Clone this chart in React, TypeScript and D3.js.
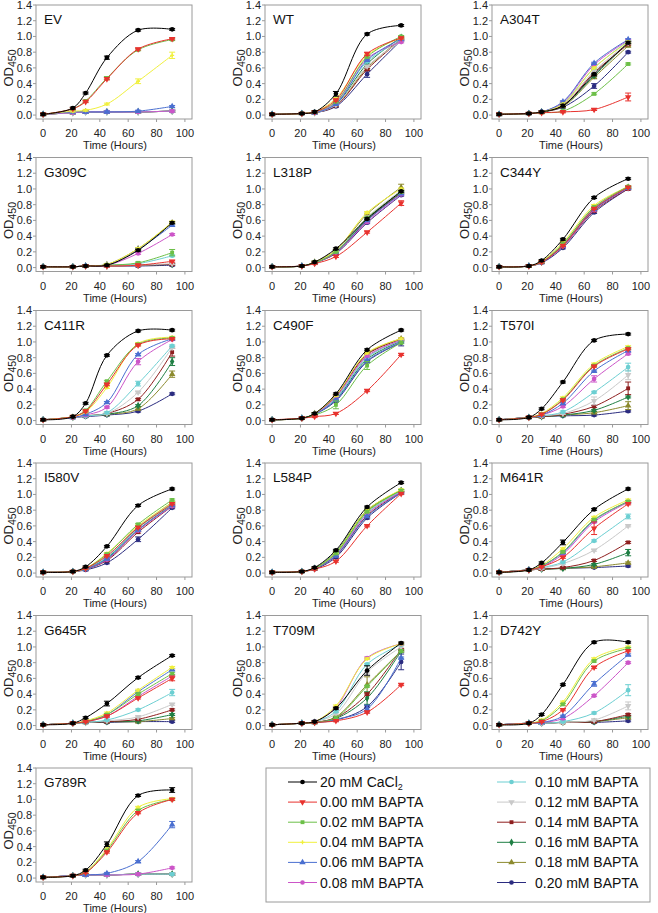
import React from "react";
import * as d3 from "d3";

// ---------- data ----------
const times = [0, 21, 30, 45, 67, 91];
const xTicks = [0, 20, 40, 60, 80, 100];
const yTicks = [0, 0.2, 0.4, 0.6, 0.8, 1.0, 1.2, 1.4];

const seriesLabels = [
  "20 mM CaCl", "0.00 mM BAPTA", "0.02 mM BAPTA", "0.04 mM BAPTA", "0.06 mM BAPTA", "0.08 mM BAPTA",
  "0.10 mM BAPTA", "0.12 mM BAPTA", "0.14 mM BAPTA", "0.16 mM BAPTA", "0.18 mM BAPTA", "0.20 mM BAPTA",
];
const seriesColors = [
  "#000000", "#e8322e", "#6cbf47", "#f0f03c", "#4a6fd0", "#cc55c8",
  "#6ccfd2", "#c9c9c9", "#8e1e1e", "#1f7f44", "#8c8a2e", "#2b2c80",
];
const seriesShapes = [
  "circle", "triangleDown", "square", "cross", "triangle", "circle",
  "circle", "triangleDown", "square", "diamond", "triangle", "circle",
];

const panelNames = [
  "EV", "WT", "A304T", "G309C", "L318P", "C344Y", "C411R", "C490F",
  "T570I", "I580V", "L584P", "M641R", "G645R", "T709M", "D742Y", "G789R",
];

const dataEV = [
  [0.01, 0.09, 0.28, 0.73, 1.08, 1.09],
  [0.01, 0.08, 0.17, 0.46, 0.84, 0.97],
  [0.01, 0.08, 0.18, 0.47, 0.83, 0.96],
  [0.01, 0.05, 0.06, 0.14, 0.43, 0.76],
  [0.01, 0.04, 0.04, 0.04, 0.05, 0.11],
  [0.01, 0.03, 0.04, 0.04, 0.04, 0.05],
  [0.01, 0.03, 0.04, 0.04, 0.04, 0.05],
  [0.01, 0.03, 0.04, 0.04, 0.04, 0.05],
  [0.01, 0.03, 0.04, 0.04, 0.04, 0.05],
  [0.01, 0.03, 0.04, 0.04, 0.04, 0.05],
  [0.01, 0.03, 0.04, 0.04, 0.04, 0.05],
  [0.01, 0.03, 0.04, 0.04, 0.04, 0.05],
];
const dataWT = [
  [0.01, 0.02, 0.04, 0.27, 1.03, 1.14],
  [0.01, 0.02, 0.04, 0.19, 0.78, 0.98],
  [0.01, 0.02, 0.04, 0.17, 0.74, 1.0],
  [0.01, 0.02, 0.04, 0.21, 0.76, 0.98],
  [0.01, 0.02, 0.03, 0.14, 0.7, 0.97],
  [0.01, 0.02, 0.03, 0.16, 0.72, 0.93],
  [0.01, 0.02, 0.03, 0.15, 0.68, 0.95],
  [0.01, 0.02, 0.03, 0.13, 0.62, 0.94],
  [0.01, 0.02, 0.03, 0.12, 0.58, 0.96],
  [0.01, 0.02, 0.03, 0.14, 0.65, 0.99],
  [0.01, 0.02, 0.03, 0.13, 0.6, 0.97],
  [0.01, 0.02, 0.03, 0.11, 0.52, 0.95],
];
const dataA304T = [
  [0.01, 0.02, 0.04, 0.12, 0.52, 0.92],
  [0.01, 0.02, 0.03, 0.04, 0.07, 0.23],
  [0.01, 0.02, 0.03, 0.05, 0.27, 0.65],
  [0.01, 0.02, 0.04, 0.14, 0.6, 0.93],
  [0.01, 0.02, 0.04, 0.17, 0.66, 0.96],
  [0.01, 0.02, 0.04, 0.16, 0.64, 0.95],
  [0.01, 0.02, 0.04, 0.15, 0.6, 0.94],
  [0.01, 0.02, 0.04, 0.14, 0.56, 0.92],
  [0.01, 0.02, 0.04, 0.12, 0.54, 0.9],
  [0.01, 0.02, 0.04, 0.12, 0.5, 0.92],
  [0.01, 0.02, 0.04, 0.11, 0.48, 0.88],
  [0.01, 0.02, 0.04, 0.1, 0.37, 0.8],
];
const dataG309C = [
  [0.01, 0.01, 0.02, 0.03, 0.22, 0.57],
  [0.01, 0.01, 0.02, 0.02, 0.03, 0.08],
  [0.01, 0.01, 0.02, 0.03, 0.06, 0.19],
  [0.01, 0.01, 0.02, 0.04, 0.24, 0.58],
  [0.01, 0.01, 0.02, 0.03, 0.23, 0.54],
  [0.01, 0.01, 0.02, 0.03, 0.18, 0.42],
  [0.01, 0.01, 0.02, 0.03, 0.05, 0.15],
  [0.01, 0.01, 0.02, 0.02, 0.03, 0.05],
  [0.01, 0.01, 0.02, 0.02, 0.03, 0.04],
  [0.01, 0.01, 0.02, 0.02, 0.03, 0.04],
  [0.01, 0.01, 0.02, 0.04, 0.24, 0.57],
  [0.01, 0.01, 0.02, 0.02, 0.02, 0.03],
];
const dataL318P = [
  [0.01, 0.02, 0.07, 0.24, 0.62, 0.97],
  [0.01, 0.02, 0.05, 0.14, 0.45, 0.82],
  [0.01, 0.02, 0.06, 0.2, 0.63, 0.96],
  [0.01, 0.02, 0.07, 0.22, 0.7, 1.0],
  [0.01, 0.02, 0.06, 0.2, 0.6, 0.94],
  [0.01, 0.02, 0.06, 0.19, 0.58, 0.93],
  [0.01, 0.02, 0.06, 0.2, 0.62, 0.97],
  [0.01, 0.02, 0.06, 0.21, 0.64, 0.98],
  [0.01, 0.02, 0.06, 0.19, 0.6, 0.95],
  [0.01, 0.02, 0.06, 0.2, 0.61, 0.96],
  [0.01, 0.02, 0.07, 0.22, 0.68, 1.02],
  [0.01, 0.02, 0.06, 0.18, 0.57, 0.92],
];
const dataC344Y = [
  [0.01, 0.02, 0.09, 0.36, 0.89, 1.13],
  [0.01, 0.02, 0.07, 0.28, 0.75, 1.02],
  [0.01, 0.02, 0.07, 0.3, 0.77, 1.03],
  [0.01, 0.02, 0.08, 0.32, 0.79, 1.03],
  [0.01, 0.02, 0.07, 0.28, 0.74, 1.01],
  [0.01, 0.02, 0.07, 0.27, 0.73, 1.01],
  [0.01, 0.02, 0.07, 0.29, 0.75, 1.02],
  [0.01, 0.02, 0.07, 0.29, 0.76, 1.02],
  [0.01, 0.02, 0.07, 0.27, 0.72, 1.0],
  [0.01, 0.02, 0.07, 0.28, 0.74, 1.02],
  [0.01, 0.02, 0.07, 0.3, 0.76, 1.02],
  [0.01, 0.02, 0.06, 0.25, 0.7, 1.0],
];
const dataC411R = [
  [0.01, 0.05, 0.22, 0.83, 1.14, 1.15],
  [0.01, 0.05, 0.12, 0.46, 0.96, 1.04],
  [0.01, 0.05, 0.13, 0.5, 0.97, 1.05],
  [0.01, 0.05, 0.11, 0.42, 0.98, 1.06],
  [0.01, 0.04, 0.08, 0.23, 0.84, 1.04],
  [0.01, 0.04, 0.07, 0.17, 0.75, 1.03],
  [0.01, 0.04, 0.06, 0.1, 0.47, 0.95],
  [0.01, 0.04, 0.06, 0.09, 0.36, 0.93],
  [0.01, 0.04, 0.06, 0.09, 0.27, 0.87],
  [0.01, 0.04, 0.06, 0.08, 0.19, 0.75],
  [0.01, 0.04, 0.06, 0.08, 0.15, 0.59],
  [0.01, 0.04, 0.05, 0.07, 0.12, 0.34],
];
const dataC490F = [
  [0.01, 0.03, 0.09, 0.34, 0.9, 1.15],
  [0.01, 0.03, 0.05, 0.09, 0.38, 0.84],
  [0.01, 0.03, 0.07, 0.2, 0.7, 0.99],
  [0.01, 0.03, 0.09, 0.32, 0.86, 1.04],
  [0.01, 0.03, 0.08, 0.26, 0.76, 1.0],
  [0.01, 0.03, 0.08, 0.3, 0.82, 1.02],
  [0.01, 0.03, 0.08, 0.28, 0.8, 1.02],
  [0.01, 0.03, 0.08, 0.29, 0.81, 1.02],
  [0.01, 0.03, 0.08, 0.31, 0.84, 1.03],
  [0.01, 0.03, 0.08, 0.27, 0.78, 1.01],
  [0.01, 0.03, 0.09, 0.32, 0.85, 1.04],
  [0.01, 0.03, 0.08, 0.25, 0.75, 0.99],
];
const dataT570I = [
  [0.01, 0.04, 0.15, 0.49, 1.02, 1.1],
  [0.01, 0.04, 0.08, 0.26, 0.69, 0.91],
  [0.01, 0.04, 0.08, 0.27, 0.7, 0.92],
  [0.01, 0.04, 0.09, 0.29, 0.72, 0.94],
  [0.01, 0.04, 0.07, 0.22, 0.63, 0.89],
  [0.01, 0.04, 0.07, 0.18, 0.53, 0.85],
  [0.01, 0.04, 0.06, 0.11, 0.36, 0.68],
  [0.01, 0.04, 0.06, 0.09, 0.25, 0.58],
  [0.01, 0.04, 0.05, 0.08, 0.18, 0.41],
  [0.01, 0.04, 0.05, 0.07, 0.13, 0.3],
  [0.01, 0.04, 0.05, 0.07, 0.1, 0.19],
  [0.01, 0.04, 0.05, 0.06, 0.07, 0.12],
];
const dataI580V = [
  [0.01, 0.02, 0.08, 0.34, 0.86, 1.07],
  [0.01, 0.02, 0.06, 0.22, 0.58, 0.88],
  [0.01, 0.02, 0.06, 0.24, 0.62, 0.93],
  [0.01, 0.02, 0.06, 0.25, 0.6, 0.9],
  [0.01, 0.02, 0.05, 0.18, 0.55, 0.86],
  [0.01, 0.02, 0.05, 0.17, 0.54, 0.85],
  [0.01, 0.02, 0.06, 0.2, 0.57, 0.88],
  [0.01, 0.02, 0.06, 0.21, 0.59, 0.89],
  [0.01, 0.02, 0.05, 0.16, 0.52, 0.85],
  [0.01, 0.02, 0.06, 0.19, 0.58, 0.9],
  [0.01, 0.02, 0.05, 0.17, 0.55, 0.87],
  [0.01, 0.02, 0.04, 0.13, 0.43, 0.83],
];
const dataL584P = [
  [0.01, 0.02, 0.07, 0.29, 0.84, 1.15],
  [0.01, 0.02, 0.05, 0.15, 0.6, 1.01],
  [0.01, 0.02, 0.06, 0.25, 0.78, 1.05],
  [0.01, 0.02, 0.06, 0.26, 0.8, 1.06],
  [0.01, 0.02, 0.06, 0.22, 0.72, 1.02],
  [0.01, 0.02, 0.06, 0.23, 0.75, 1.03],
  [0.01, 0.02, 0.06, 0.24, 0.76, 1.04],
  [0.01, 0.02, 0.06, 0.24, 0.77, 1.04],
  [0.01, 0.02, 0.06, 0.22, 0.73, 1.03],
  [0.01, 0.02, 0.06, 0.27, 0.8, 1.05],
  [0.01, 0.02, 0.06, 0.25, 0.79, 1.05],
  [0.01, 0.02, 0.05, 0.2, 0.7, 1.02],
];
const dataM641R = [
  [0.01, 0.04, 0.13, 0.39, 0.81, 1.07],
  [0.01, 0.04, 0.08, 0.2, 0.57, 0.88],
  [0.01, 0.04, 0.09, 0.27, 0.68, 0.91],
  [0.01, 0.04, 0.1, 0.31, 0.71, 0.93],
  [0.01, 0.04, 0.09, 0.26, 0.67, 0.91],
  [0.01, 0.04, 0.08, 0.24, 0.65, 0.9],
  [0.01, 0.04, 0.07, 0.14, 0.41, 0.72],
  [0.01, 0.04, 0.06, 0.12, 0.29, 0.6],
  [0.01, 0.04, 0.05, 0.07, 0.16, 0.39],
  [0.01, 0.04, 0.05, 0.06, 0.11, 0.26],
  [0.01, 0.04, 0.05, 0.06, 0.08, 0.13],
  [0.01, 0.04, 0.05, 0.06, 0.07, 0.09],
];
const dataG645R = [
  [0.01, 0.03, 0.1, 0.28, 0.61, 0.89],
  [0.01, 0.03, 0.05, 0.12, 0.35, 0.6],
  [0.01, 0.03, 0.05, 0.14, 0.4, 0.66],
  [0.01, 0.03, 0.06, 0.16, 0.45, 0.74],
  [0.01, 0.03, 0.05, 0.14, 0.43, 0.71],
  [0.01, 0.03, 0.05, 0.12, 0.37, 0.63],
  [0.01, 0.03, 0.04, 0.07, 0.2, 0.42],
  [0.01, 0.03, 0.04, 0.06, 0.11, 0.27],
  [0.01, 0.03, 0.04, 0.05, 0.08, 0.2],
  [0.01, 0.03, 0.04, 0.05, 0.06, 0.14],
  [0.01, 0.03, 0.04, 0.05, 0.05, 0.09],
  [0.01, 0.03, 0.04, 0.04, 0.05, 0.05],
];
const dataT709M = [
  [0.01, 0.03, 0.05, 0.22, 0.7, 1.05],
  [0.01, 0.03, 0.04, 0.06, 0.17, 0.52],
  [0.01, 0.03, 0.04, 0.1, 0.5, 0.95],
  [0.01, 0.03, 0.05, 0.25, 0.85, 1.04],
  [0.01, 0.03, 0.04, 0.08, 0.21, 0.86],
  [0.01, 0.03, 0.05, 0.23, 0.86, 1.04],
  [0.01, 0.03, 0.05, 0.18, 0.78, 1.03],
  [0.01, 0.03, 0.05, 0.15, 0.68, 1.0],
  [0.01, 0.03, 0.04, 0.1, 0.4, 0.97],
  [0.01, 0.03, 0.04, 0.09, 0.35, 0.95],
  [0.01, 0.03, 0.04, 0.11, 0.52, 0.95],
  [0.01, 0.03, 0.04, 0.07, 0.24, 0.81],
];
const dataD742Y = [
  [0.01, 0.03, 0.14, 0.52, 1.06, 1.06],
  [0.01, 0.03, 0.05, 0.2, 0.74, 0.95],
  [0.01, 0.03, 0.06, 0.27, 0.82, 0.98],
  [0.01, 0.03, 0.07, 0.3, 0.85, 1.0],
  [0.01, 0.03, 0.04, 0.12, 0.53, 0.9],
  [0.01, 0.03, 0.04, 0.09, 0.38, 0.8],
  [0.01, 0.03, 0.03, 0.05, 0.16, 0.45],
  [0.01, 0.03, 0.03, 0.04, 0.07, 0.25],
  [0.01, 0.03, 0.03, 0.04, 0.05, 0.14],
  [0.01, 0.03, 0.03, 0.04, 0.05, 0.12],
  [0.01, 0.03, 0.03, 0.04, 0.05, 0.1],
  [0.01, 0.03, 0.03, 0.04, 0.04, 0.06],
];
const dataG789R = [
  [0.01, 0.03, 0.1, 0.43, 1.05, 1.12],
  [0.01, 0.03, 0.07, 0.33, 0.83, 1.0],
  [0.01, 0.03, 0.07, 0.35, 0.86, 1.0],
  [0.01, 0.03, 0.08, 0.37, 0.9, 1.01],
  [0.01, 0.03, 0.04, 0.06, 0.21, 0.68],
  [0.01, 0.03, 0.04, 0.04, 0.05, 0.13],
  [0.01, 0.03, 0.04, 0.04, 0.05, 0.05],
  [0.01, 0.03, 0.04, 0.04, 0.05, 0.05],
  [0.01, 0.03, 0.04, 0.04, 0.05, 0.05],
  [0.01, 0.03, 0.04, 0.04, 0.05, 0.05],
  [0.01, 0.03, 0.04, 0.04, 0.05, 0.05],
  [0.01, 0.03, 0.04, 0.04, 0.05, 0.05],
];

const panelData = [
  dataEV, dataWT, dataA304T, dataG309C, dataL318P, dataC344Y, dataC411R, dataC490F,
  dataT570I, dataI580V, dataL584P, dataM641R, dataG645R, dataT709M, dataD742Y, dataG789R,
];

// standard error (OD) shown as error bars; default and larger ones
const defaultError = 0.012;
// [panel, series, time index, error]
const errorOverrides: [number, number, number, number][] = [
  [0, 3, 5, 0.04], [0, 3, 4, 0.03], [0, 0, 3, 0.02], [0, 2, 3, 0.02],
  [1, 11, 4, 0.04], [1, 0, 3, 0.03], [1, 1, 4, 0.02],
  [2, 1, 5, 0.05], [2, 11, 4, 0.03], [2, 8, 4, 0.04],
  [3, 2, 5, 0.04],
  [4, 10, 5, 0.04], [4, 1, 5, 0.03],
  [6, 10, 5, 0.04], [6, 8, 5, 0.05], [6, 9, 5, 0.05], [6, 6, 4, 0.03], [6, 5, 4, 0.04],
  [7, 2, 3, 0.05], [7, 2, 4, 0.05], [7, 11, 5, 0.04],
  [8, 8, 5, 0.08], [8, 7, 5, 0.06], [8, 6, 5, 0.05], [8, 5, 4, 0.04], [8, 7, 4, 0.05], [8, 10, 5, 0.05],
  [9, 11, 4, 0.03],
  [11, 1, 4, 0.08], [11, 6, 5, 0.03], [11, 0, 3, 0.03], [11, 9, 5, 0.04],
  [12, 1, 5, 0.03], [12, 6, 5, 0.04], [12, 0, 3, 0.03],
  [13, 11, 5, 0.1], [13, 10, 4, 0.1], [13, 4, 4, 0.05], [13, 9, 4, 0.08], [13, 0, 4, 0.06], [13, 7, 5, 0.06],
  [14, 6, 5, 0.07], [14, 7, 5, 0.05], [14, 4, 4, 0.03],
  [15, 4, 5, 0.04], [15, 0, 5, 0.03], [15, 0, 3, 0.03],
];

// ---------- layout ----------
const W = 658;
const H = 913;
const colLeft = [36, 265, 492];
const rowTop = [5, 157.5, 310.5, 463, 615.5, 768];
const boxW = 156;
const boxH = 114;
const FONT = "'Liberation Sans', Arial, Helvetica, sans-serif";

function symbolPath(shape: string): string {
  const gen = d3.symbol();
  switch (shape) {
    case "circle":
      return gen.type(d3.symbolCircle).size(17)() as string;
    case "square":
      return gen.type(d3.symbolSquare).size(15)() as string;
    case "triangle":
    case "triangleDown":
      return gen.type(d3.symbolTriangle).size(18)() as string;
    case "diamond":
      return gen.type(d3.symbolDiamond).size(17)() as string;
    case "cross":
      return gen.type(d3.symbolCross).size(9)() as string;
    default:
      return gen.type(d3.symbolCircle).size(17)() as string;
  }
}

function Marker({ cx, cy, s }: { cx: number; cy: number; s: number }) {
  const shape = seriesShapes[s];
  const rot = shape === "triangleDown" ? " rotate(180)" : "";
  return (
    <path
      d={symbolPath(shape)}
      transform={`translate(${cx},${cy})${rot}`}
      fill={seriesColors[s]}
      stroke="none"
    />
  );
}

function Panel({ idx }: { idx: number }) {
  const left = colLeft[idx % 3];
  const top = rowTop[Math.floor(idx / 3)];
  const x = d3.scaleLinear().domain([-5, 105]).range([left, left + boxW]);
  const y = d3.scaleLinear().domain([-0.05, 1.4]).range([top + boxH, top]);
  const line = d3
    .line<number>()
    .x((_, i) => x(times[i]))
    .y((d) => y(d))
    .curve(d3.curveCatmullRom.alpha(0.5));
  const data = panelData[idx];
  const errOf = (s: number, t: number) => {
    const o = errorOverrides.find((e) => e[0] === idx && e[1] === s && e[2] === t);
    return o ? o[3] : defaultError;
  };
  const order = d3.range(data.length).reverse();
  const bottom = top + boxH;
  return (
    <g>
      <rect x={left} y={top} width={boxW} height={boxH} fill="white" stroke="#9a9a9a" strokeWidth={1} />
      {xTicks.map((t) => (
        <g key={"x" + t}>
          <line x1={x(t)} x2={x(t)} y1={bottom} y2={bottom + 3} stroke="#9a9a9a" />
          <text x={x(t)} y={top + 132} textAnchor="middle" fontSize={11} fill="#222" fontFamily={FONT}>
            {t}
          </text>
        </g>
      ))}
      {yTicks.map((t) => (
        <g key={"y" + t}>
          <line x1={left - 3} x2={left} y1={y(t)} y2={y(t)} stroke="#9a9a9a" />
          <text x={left - 4} y={y(t)} dy="0.36em" textAnchor="end" fontSize={11} fill="#222" fontFamily={FONT}>
            {t.toFixed(1)}
          </text>
        </g>
      ))}
      <text x={left + boxW / 2 + 1} y={top + 144} textAnchor="middle" fontSize={11} fill="#222" fontFamily={FONT}>
        Time (Hours)
      </text>
      <text
        transform={`translate(${left - 23},${top + 63}) rotate(-90)`}
        textAnchor="middle"
        fontSize={13}
        fill="#222"
        fontFamily={FONT}
      >
        OD<tspan fontSize={10.5} dy={3}>450</tspan>
      </text>
      <text x={left + 8} y={top + 19} fontSize={13.5} fill="#111" fontFamily={FONT}>
        {panelNames[idx]}
      </text>
      {order.map((s) => (
        <g key={"s" + s}>
          <path d={line(data[s]) as string} fill="none" stroke={seriesColors[s]} strokeWidth={1} />
          {data[s].map((v, t) => {
            const e = errOf(s, t);
            const cx = x(times[t]);
            return (
              <g key={t}>
                <line x1={cx} x2={cx} y1={y(v - e)} y2={y(v + e)} stroke={seriesColors[s]} strokeWidth={1} />
                <line x1={cx - 3} x2={cx + 3} y1={y(v - e)} y2={y(v - e)} stroke={seriesColors[s]} strokeWidth={1} />
                <line x1={cx - 3} x2={cx + 3} y1={y(v + e)} y2={y(v + e)} stroke={seriesColors[s]} strokeWidth={1} />
                <Marker cx={cx} cy={y(v)} s={s} />
              </g>
            );
          })}
        </g>
      ))}
    </g>
  );
}

function Legend() {
  const bx = 266;
  const by = 768;
  const colX = [288, 497];
  const textX = [320, 535];
  return (
    <g>
      <rect x={bx} y={by} width={384} height={134} fill="white" stroke="#9a9a9a" strokeWidth={1} />
      {seriesLabels.map((lab, i) => {
        const c = Math.floor(i / 6);
        const r = i % 6;
        const yy = by + 14 + r * 20.1;
        const lx = colX[c];
        return (
          <g key={i}>
            <line x1={lx} x2={lx + 29} y1={yy} y2={yy} stroke={seriesColors[i]} strokeWidth={1} />
            <Marker cx={lx + 14.5} cy={yy} s={i} />
            <text x={textX[c]} y={yy + 5} fontSize={14} fill="#111" fontFamily={FONT}>
              {lab}
              {i === 0 ? (
                <tspan fontSize={9} dy={3}>
                  2
                </tspan>
              ) : null}
            </text>
          </g>
        );
      })}
    </g>
  );
}

export default function App() {
  return (
    <svg
      width={W}
      height={H}
      viewBox={`0 0 ${W} ${H}`}
      style={{ position: "absolute", left: 0, top: 0, background: "white" }}
    >
      <rect x={0} y={0} width={W} height={H} fill="white" />
      {panelNames.map((_, i) => (
        <Panel key={i} idx={i} />
      ))}
      <Legend />
    </svg>
  );
}
